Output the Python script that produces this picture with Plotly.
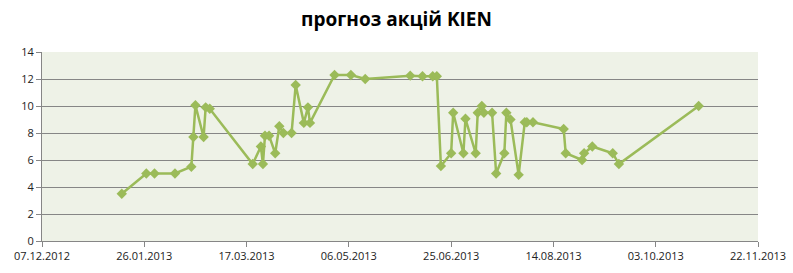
import datetime as dt
import plotly.graph_objects as go

base = dt.date(2012, 12, 7)
day_offsets = [39, 51, 55, 65, 73, 74, 75, 79, 80, 82, 103, 107, 108, 109, 111, 114, 116, 118,
               122, 124, 128, 130, 131, 143, 151, 158, 180, 186, 191, 193, 195, 200, 201, 206,
               207, 212, 213, 215, 216, 220, 222, 226, 227, 229, 233, 236, 237, 240, 255, 256,
               264, 265, 269, 279, 282, 321]
values = [3.5, 5.0, 5.0, 5.0, 5.5, 7.7, 10.05, 7.7, 9.9, 9.8, 5.7, 7.0, 5.7, 7.8, 7.8, 6.5, 8.5, 8.0,
          8.0, 11.55, 8.75, 9.9, 8.75, 12.3, 12.3, 12.0, 12.25, 12.2, 12.2, 12.2, 5.55, 6.5, 9.5, 6.5,
          9.05, 6.5, 9.5, 10.0, 9.5, 9.5, 5.0, 6.5, 9.5, 9.0, 4.9, 8.8, 8.8, 8.8, 8.3, 6.5,
          6.0, 6.5, 7.0, 6.5, 5.7, 10.0]
dates = [base + dt.timedelta(days=d) for d in day_offsets]

tick_dates = [base + dt.timedelta(days=50 * i) for i in range(8)]
tick_labels = [d.strftime("%d.%m.%Y") for d in tick_dates]
y_ticks = [0, 2, 4, 6, 8, 10, 12, 14]

fig = go.Figure()
fig.add_trace(go.Scatter(
    x=dates, y=values, mode="lines+markers",
    line=dict(color="#9BBB59", width=2.5),
    marker=dict(symbol="diamond", size=8, color="#9BBB59"),
    showlegend=False,
))

fig.update_layout(
    width=793, height=273,
    margin=dict(l=42, r=35, t=52, b=32, autoexpand=False),
    paper_bgcolor="white",
    plot_bgcolor="#EEF2E7",
    title=dict(text="<b>прогноз акцій KIEN</b>", x=0.5, xanchor="center", y=0.955, yanchor="top",
               font=dict(family="Open Sans", size=19, color="black")),
    font=dict(family="Open Sans", size=11, color="#222222"),
)
fig.update_xaxes(
    type="date", automargin=False,
    range=[tick_dates[0], tick_dates[-1]],
    tickvals=tick_dates, ticktext=tick_labels,
    showgrid=False, zeroline=False,
    showline=True, linecolor="#868686", linewidth=1,
    ticks="outside", ticklen=5, tickcolor="#868686",
    tickfont=dict(size=11),
)
fig.update_yaxes(
    range=[0, 14], tickvals=y_ticks, automargin=False,
    showgrid=True, gridcolor="#868686", gridwidth=1,
    zeroline=False,
    showline=True, linecolor="#868686", linewidth=1,
    ticks="outside", ticklen=5, tickcolor="#868686",
    tickfont=dict(size=11),
)

fig.write_html("out.html")
